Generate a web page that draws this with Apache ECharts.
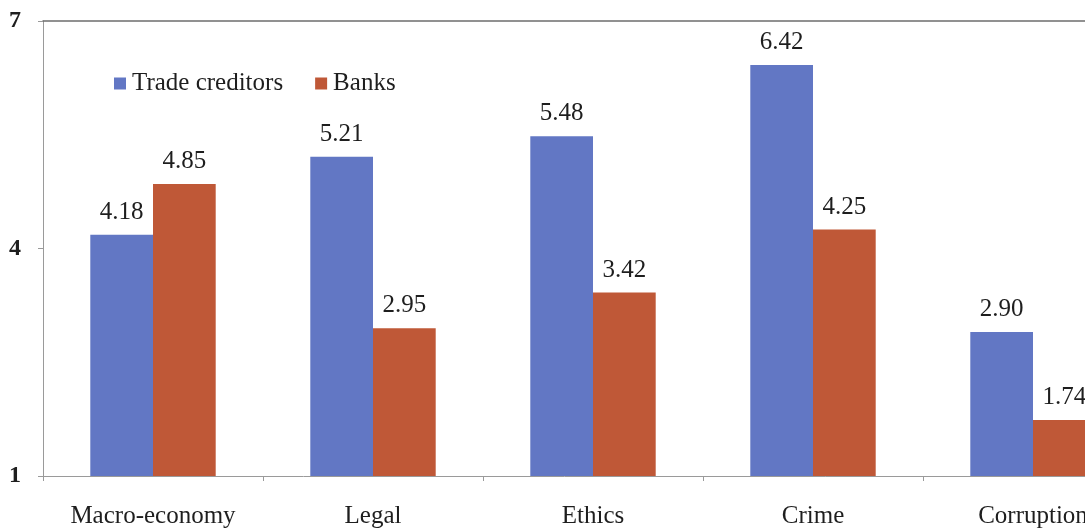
<!DOCTYPE html>
<html>
<head>
<meta charset="utf-8">
<script src="https://cdn.jsdelivr.net/npm/echarts@6/dist/echarts.min.js"></script>
<style>
  html, body { margin: 0; padding: 0; background: #ffffff; }
  #chart { width: 1085px; height: 530px; }
</style>
</head>
<body>
<div id="chart"></div>
<script>
// Categories and series values
const categories = ['Macro-economy', 'Legal', 'Ethics', 'Crime', 'Corruption'];
const tradeCreditors = [4.18, 5.21, 5.48, 6.42, 2.90];
const banks = [4.85, 2.95, 3.42, 4.25, 1.74];
const yTicks = [1, 4, 7];

const FONT = '"Liberation Serif", "Times New Roman", serif';
const TEXT = '#1e1e1e';
const BLUE = '#6277c4';
const RED = '#bf5837';

const chart = echarts.init(document.getElementById('chart'));

const labelStyle = {
  show: true,
  position: 'top',
  distance: 10,
  fontFamily: FONT,
  fontSize: 25,
  color: TEXT,
  formatter: p => p.value.toFixed(2)
};

chart.setOption({
  animation: false,
  backgroundColor: '#ffffff',
  legend: {
    left: 109,
    top: 66,
    itemWidth: 12,
    itemHeight: 12,
    itemGap: 32,
    icon: 'rect',
    textStyle: { fontFamily: FONT, fontSize: 25, color: TEXT, padding: [0, 0, 0, 1] },
    data: ['Trade creditors', 'Banks']
  },
  grid: { left: 43, top: 21, width: 1100, height: 455, containLabel: false, outerBoundsMode: 'none' },
  xAxis: [
    {
      type: 'category',
      data: categories,
      position: 'bottom',
      axisLine: { show: true, lineStyle: { color: '#9a9a9a', width: 1 } },
      axisTick: { show: true, interval: 0, length: 5, lineStyle: { color: '#9a9a9a' } },
      axisLabel: { interval: 0, fontFamily: FONT, fontSize: 25, color: TEXT, margin: 28 }
    },
    {
      // upper frame line of the plot area
      type: 'category',
      data: categories,
      position: 'top',
      axisLine: { show: true, lineStyle: { color: '#6e6e6e', width: 1.5 } },
      axisTick: { show: false },
      axisLabel: { show: false }
    }
  ],
  yAxis: {
    type: 'value',
    min: yTicks[0],
    max: yTicks[yTicks.length - 1],
    interval: 3,
    axisLine: { show: true, lineStyle: { color: '#9a9a9a', width: 1 } },
    axisTick: { show: true, length: 5, lineStyle: { color: '#9a9a9a' } },
    splitLine: { show: false },
    axisLabel: {
      fontFamily: FONT, fontSize: 24, fontWeight: 'bold', color: TEXT, margin: 22,
      formatter: v => (yTicks.includes(v) ? String(v) : '')
    }
  },
  series: [
    {
      name: 'Trade creditors',
      type: 'bar',
      data: tradeCreditors,
      barGap: '0%',
      barCategoryGap: '43%',
      itemStyle: { color: BLUE },
      label: labelStyle
    },
    {
      name: 'Banks',
      type: 'bar',
      data: banks,
      itemStyle: { color: RED },
      label: labelStyle
    }
  ]
});
</script>
</body>
</html>
